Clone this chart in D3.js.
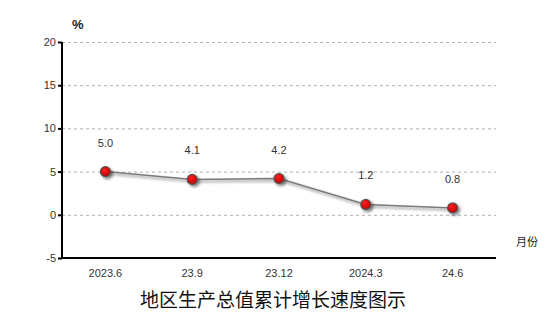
<!DOCTYPE html>
<html><head><meta charset="utf-8">
<script src="https://cdn.jsdelivr.net/npm/d3@7"></script>
<style>body{margin:0;background:#fff;}svg{display:block;}</style>
</head><body>
<svg id="c" width="554" height="332"></svg>
<script>
const categories = ["2023.6","23.9","23.12","2024.3","24.6"];
const values = [5.0, 4.1, 4.2, 1.2, 0.8];
const yTicks = [-5, 0, 5, 10, 15, 20];
const title = "地区生产总值累计增长速度图示";

const svg = d3.select("#c");
const m = {l:62, r:496, t:42, b:258};
const x = d3.scaleBand().domain(categories).range([m.l, m.r]);
const y = d3.scaleLinear().domain([-5, 20]).range([m.b, m.t]);

const defs = svg.append("defs");
const f = defs.append("filter").attr("id","sh").attr("x","-50%").attr("y","-50%").attr("width","200%").attr("height","200%");
f.append("feGaussianBlur").attr("in","SourceAlpha").attr("stdDeviation",1.5);
f.append("feOffset").attr("dx",1.5).attr("dy",2).attr("result","o");
f.append("feComponentTransfer").append("feFuncA").attr("type","linear").attr("slope",0.5);
const mg = f.append("feMerge"); mg.append("feMergeNode"); mg.append("feMergeNode").attr("in","SourceGraphic");
const rg = defs.append("radialGradient").attr("id","rg").attr("cx","40%").attr("cy","35%").attr("r","65%");
rg.append("stop").attr("offset","0%").attr("stop-color","#ff2020");
rg.append("stop").attr("offset","100%").attr("stop-color","#c00000");

// gridlines
svg.append("g").selectAll("line").data(yTicks.filter(d=>d!==-5)).join("line")
  .attr("x1", m.l).attr("x2", m.r).attr("y1", d=>y(d)+0.5).attr("y2", d=>y(d)+0.5)
  .attr("stroke","#b0b0b0").attr("stroke-width",1).attr("stroke-dasharray","3,3");

// y axis
const ya = svg.append("g").attr("transform",`translate(${m.l},0)`)
  .call(d3.axisLeft(y).tickValues(yTicks).tickSize(4).tickFormat(d => String(d)));
ya.select(".domain").attr("stroke","#000").attr("stroke-width",2).attr("d",`M0,${m.t}V${m.b}`);
ya.selectAll(".tick line").attr("stroke","#000").attr("stroke-width",2);
ya.selectAll("text").attr("font-family","'Liberation Sans', Arial, sans-serif").attr("font-size",11).attr("fill","#333").attr("x",-6);

// x axis
const xa = svg.append("g").attr("transform",`translate(0,${m.b})`)
  .call(d3.axisBottom(x).tickSize(0).tickPadding(11));
xa.select(".domain").attr("stroke","#000").attr("stroke-width",2).attr("d",`M${m.l},0H${m.r}`);
xa.selectAll("text").attr("font-family","'Liberation Sans', Arial, sans-serif").attr("font-size",11).attr("fill","#333");

// line
const cx = d => x(d) + x.bandwidth()/2;
svg.append("path").datum(values)
  .attr("d", d3.line().x((d,i)=>cx(categories[i])).y(d=>y(d)))
  .attr("fill","none").attr("stroke","#7a7a7a").attr("stroke-width",1.5).attr("filter","url(#sh)");

// points
svg.append("g").selectAll("circle").data(values).join("circle")
  .attr("cx",(d,i)=>cx(categories[i])).attr("cy",d=>y(d)).attr("r",5)
  .attr("fill","url(#rg)").attr("stroke","#555").attr("stroke-width",1.2).attr("filter","url(#sh)");

// labels
svg.append("g").selectAll("text").data(values).join("text")
  .attr("x",(d,i)=>cx(categories[i])).attr("y",d=>y(d)-25)
  .attr("text-anchor","middle").attr("font-family","'Liberation Sans', Arial, sans-serif")
  .attr("font-size",11).attr("fill","#333").text(d=>d.toFixed(1));

svg.append("text").attr("x",72).attr("y",29).attr("font-family","'Liberation Sans', Arial, sans-serif")
  .attr("font-size",13).attr("font-weight","bold").attr("fill","#222").text("%");
svg.append("text").attr("x",516).attr("y",246).attr("font-family","'Noto Sans CJK SC', sans-serif")
  .attr("font-size",11).attr("fill","#222").text("月份");
svg.append("text").attr("x",273).attr("y",307).attr("text-anchor","middle").attr("font-family","'Noto Sans CJK SC', sans-serif")
  .attr("font-size",19).attr("fill","#111").text(title);
</script>
</body></html>
